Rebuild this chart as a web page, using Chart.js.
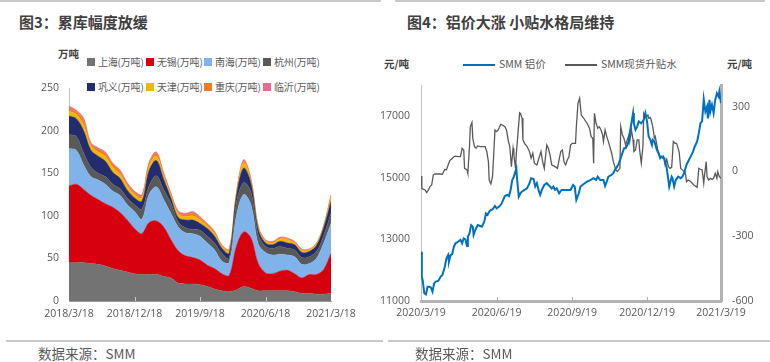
<!DOCTYPE html>
<html>
<head>
<meta charset="utf-8">
<script src="https://cdn.jsdelivr.net/npm/chart.js@4.4.1/dist/chart.umd.min.js"></script>
<style>
body{margin:0;width:770px;height:362px;background:#fff;position:relative;overflow:hidden;font-family:"Noto Sans CJK SC","Open Sans",sans-serif;}
.abs{position:absolute;white-space:nowrap}
.rule{position:absolute;background:#c9c9c9}
.title{font-size:15px;font-weight:bold;color:#404040;line-height:18px}
.unit{font-size:10.5px;font-weight:bold;color:#404040;line-height:14px}
.lg{font-size:10.5px;color:#595959;line-height:14px}
#legend3 .lg{font-size:10px;letter-spacing:-0.2px}
.lg i{display:inline-block;width:8px;height:8px;margin-right:3px;vertical-align:0}
.seg{position:absolute;height:2px}
.src{font-size:13.5px;color:#595959;line-height:16px}
canvas{position:absolute}
</style>
</head>
<body>
<div class="rule" style="left:0;top:0;width:381px;height:2px"></div>
<div class="rule" style="left:395px;top:0;width:370px;height:2px"></div>
<div class="abs title" style="left:19px;top:13px">图3：累库幅度放缓</div>
<div class="abs title" style="left:407px;top:13px">图4：铝价大涨 小贴水格局维持</div>

<div class="abs unit" style="left:58px;top:47px">万吨</div>
<div id="legend3"></div>

<div class="abs unit" style="left:384px;top:57px">元/吨</div>
<div class="abs unit" style="left:727px;top:57px">元/吨</div>
<div class="seg" style="left:463px;top:64px;width:32px;background:#0070c0"></div>
<div class="abs lg" style="left:499px;top:57px">SMM 铝价</div>
<div class="seg" style="left:565px;top:64px;width:32px;height:1.5px;background:#595959"></div>
<div class="abs lg" style="left:601px;top:57px">SMM现货升贴水</div>

<canvas id="stock" width="385" height="245" style="left:0;top:80px"></canvas>
<canvas id="price" width="395" height="245" style="left:375px;top:80px"></canvas>

<div class="rule" style="left:6px;top:340px;width:377px;height:1.5px"></div>
<div class="rule" style="left:388px;top:340px;width:382px;height:1.5px"></div>
<div class="abs src" style="left:38px;top:345px">数据来源：SMM</div>
<div class="abs src" style="left:415px;top:345px">数据来源：SMM</div>

<script>
// 图3 库存（万吨），2018/3/18 - 2021/3/18 每月
var stockDates = [];
for (var k = 0; k <= 36; k++) {
	var mm = 3 + k;
	stockDates.push((2018 + Math.floor((mm - 1) / 12)) + '/' + (((mm - 1) % 12) + 1) + '/18');
}
var stockTickLabels = ['2018/3/18', '2018/12/18', '2019/9/18', '2020/6/18', '2021/3/18'];

var shanghai  = [45,45,45,44,43,41,38,36,34,32,31,31,31,29,27,21,20,20,19,17,14,12,11,13,17,15,12,12,12,12,12,11,9,9,8,8,9];
var wuxi      = [90,92,86,80,76,73,72,68,61,53,48,61,63,58,45,38,33,31,29,25,24,20,19,51,64,59,32,21,20,23,24,21,18,22,23,29,47];
var nanhai    = [44,40,29,22,23,23,19,20,18,20,17,33,40,32,31,28,27,28,28,26,22,15,15,36,44,39,23,24,22,20,18,20,16,13,19,31,35];
var hangzhou  = [16,16,14,11,8,9,8,8,8,8,12,10,13,12,12,6,6,5,7,8,8,9,5,15,14,15,11,7,8,9,8,8,8,8,8,9,12];
var gongyi    = [22,21,26,20,20,18,14,12,9,8,9,18,18,12,6,5,9,11,8,9,8,6,6,8,17,10,6,4,4,6,6,6,6,6,7,9,14];
var tianjin   = [6,5,7,5,5,6,6,5,5,4,4,5,5,4,3,4,4,5,4,3,3,2,3,2,6,3,2,2,2,3,4,2,2,2,2,2,5];
var chongqing = [3,3,5,3,3,3,4,3,3,2,2,3,3,2,2,2,2,3,2,2,2,1,1,1,2,2,1,1,1,1,1,1,1,0.5,0.5,0.5,1.5];
var linyi     = [3,2,3,1,2,2,1,2,1,2,2,2,2,2,1,2,2,2,2,1,1,1,1,1,2,1,1,1,1,1,1,1,1,0.5,0.5,0.5,1.5];

var cityNames  = ['上海(万吨)','无锡(万吨)','南海(万吨)','杭州(万吨)','巩义(万吨)','天津(万吨)','重庆(万吨)','临沂(万吨)'];
var cityColors = ['#737373','#d7000f','#7fb3ea','#595959','#232c6e','#f2b705','#f47b20','#ea6b8b'];
var citySeries = [shanghai, wuxi, nanhai, hangzhou, gongyi, tianjin, chongqing, linyi];

// 图4 铝价（元/吨）与现货升贴水（元/吨），横轴为自 2020/3/19 起的天数
var alDays = [0,1,2,4,6,8,10,12,14,16,18,21,24,26,29,31,33,34,36,38,40,42,45,48,50,52,54,56,57,59,61,63,64,66,69,72,74,77,79,81,83,85,87,90,92,95,98,100,102,105,107,109,111,113,116,117,119,121,123,126,129,132,134,137,139,141,143,145,147,150,153,155,157,159,161,163,165,168,171,174,178,182,185,187,188,189,192,194,198,202,206,210,213,215,218,222,224,226,228,232,234,236,240,243,245,247,249,252,254,256,258,259,261,263,265,268,271,273,275,277,279,281,282,284,287,289,291,293,296,299,301,302,305,306,308,310,313,316,318,320,321,323,325,328,331,333,336,338,340,342,344,346,348,349,351,352,354,356,358,360,362,363,365];
var alPrice = [12600,11790,11680,11250,11215,11460,11460,11440,11300,11570,11630,11650,11790,11840,12110,12380,12490,12275,12490,12520,12760,12870,12920,12980,12870,13030,13000,12780,13090,13190,13460,13410,13140,13300,13460,13430,13410,13570,13840,13790,13900,13950,13970,14080,14000,14060,14150,14280,14400,14440,14400,14600,14920,15030,15300,14920,14380,14490,14550,14600,14650,14820,14980,14950,14710,14820,14600,14440,14600,14760,14820,14760,14710,14650,14710,14600,14650,14490,14600,14600,14600,14600,14760,14710,14490,14280,14490,14710,14790,14870,14920,14980,14920,15030,14920,14920,14730,14870,15030,15090,15140,15250,15410,15630,15790,15950,15950,16110,16440,16760,17090,16760,16550,16650,16820,16760,16870,17090,16820,16330,16220,16060,16220,16170,15900,15790,15630,15680,15630,15300,14920,14710,15030,14980,14710,14920,15030,14980,15030,15140,15230,15410,15520,15680,15840,16000,16170,16440,16760,16820,17540,17140,17300,16920,17520,17140,17360,17090,17520,17730,17630,17790,17410];

var spDays = [0,1,3,5,7,9,11,13,15,17,20,24,26,29,31,33,35,37,40,42,45,48,50,52,53,56,57,59,60,62,63,65,67,69,72,74,78,80,82,83,85,87,88,90,92,94,97,99,102,104,106,108,110,112,113,115,116,118,120,121,123,124,126,129,132,134,136,138,141,144,146,148,150,153,155,157,159,163,166,168,170,172,174,176,178,180,182,184,186,188,189,191,193,195,198,202,205,207,209,210,211,213,215,217,219,221,222,224,226,228,232,234,237,239,242,243,245,247,249,251,253,254,256,258,259,261,263,265,266,268,270,271,272,274,276,277,279,280,282,284,285,287,288,290,292,294,295,297,299,301,303,305,307,309,311,314,316,318,320,322,323,325,328,332,336,338,340,342,344,345,347,348,350,352,354,356,358,360,361,363,365];
var spread = [-21,-78,-83,-86,-98,-86,-70,-63,-16,-12,-12,-12,-13,10,7,30,50,56,68,71,68,68,107,99,14,7,-9,115,207,226,153,115,107,118,115,115,115,92,45,-40,-58,-24,45,192,184,192,218,215,207,192,146,115,22,107,76,14,84,176,272,269,246,146,130,115,92,61,84,38,30,68,92,45,14,122,107,76,30,22,14,53,92,99,45,30,53,68,122,130,130,130,207,315,339,261,246,223,200,161,153,38,269,223,200,207,192,169,138,192,161,138,84,45,7,-1,14,207,169,153,122,146,169,138,192,146,92,99,146,146,99,38,115,269,261,253,261,246,250,238,207,153,161,122,99,76,65,61,68,30,56,22,14,19,138,130,130,92,14,7,-1,-16,-47,-40,-47,-63,-74,14,10,7,-55,-16,45,-24,-40,-32,-37,-32,-9,-32,-1,-24,-32];

var priceTickDays = [0, 92, 184, 275, 365];
var priceTickLabels = ['2020/3/19', '2020/6/19', '2020/9/19', '2020/12/19', '2021/3/19'];
var alTicks = [11000, 13000, 15000, 17000];
var spTicks = [-600, -300, 0, 300];

// 图例
var lg = document.getElementById('legend3');
var lgLeft = [87, 146, 204, 263];
cityNames.forEach(function(name, i) {
	var d = document.createElement('div');
	d.className = 'abs lg';
	d.style.left = lgLeft[i % 4] + 'px';
	d.style.top = (i < 4 ? 55 : 80) + 'px';
	d.innerHTML = '<i style="background:' + cityColors[i] + '"></i>' + name;
	lg.appendChild(d);
});

Chart.defaults.font.family = '"Open Sans", "Noto Sans CJK SC", sans-serif';
Chart.defaults.font.size = 10.5;
Chart.defaults.color = '#595959';

// 横轴上向内的小刻度
const innerTicks = {
	id: 'innerTicks',
	afterDatasetsDraw(chart, args, opts) {
		const s = chart.scales.x, ctx = chart.ctx;
		ctx.save();
		ctx.strokeStyle = opts.color;
		ctx.lineWidth = 1;
		s.ticks.forEach(function(t, i) {
			if (!opts.show(i)) return;
			const x = Math.round(s.getPixelForTick(i)) + 0.5;
			ctx.beginPath();
			ctx.moveTo(x, s.top);
			ctx.lineTo(x, s.top - 4);
			ctx.stroke();
		});
		ctx.restore();
	}
};

function fixedTicks(list) {
	return function(s) { s.ticks = list.map(function(v) { return { value: v }; }); };
}

// 纵轴固定宽度，且不为首末标签额外留边
function fitY(w) {
	return function(s) { s.width = w; s.paddingTop = 0; s.paddingBottom = 0; };
}

new Chart(document.getElementById('stock'), {
	type: 'line',
	data: {
		labels: stockDates,
		datasets: citySeries.map(function(arr, i) {
			return {
				label: cityNames[i],
				data: arr,
				backgroundColor: cityColors[i],
				borderColor: cityColors[i],
				borderWidth: 0.5,
				pointRadius: 0,
				tension: 0.35,
				fill: i === 0 ? 'origin' : '-1'
			};
		})
	},
	options: {
		responsive: false,
		animation: false,
		layout: { padding: { top: 8, right: 54, left: 0, bottom: 0 } },
		plugins: {
			legend: { display: false },
			tooltip: { enabled: false },
			innerTicks: { color: '#c8c8c8', show: function(i) { return i > 0 && i < 36 && i % 9 === 0; } }
		},
		scales: {
			x: {
				offset: false,
				grid: { display: true, drawOnChartArea: false, drawTicks: false },
				border: { color: '#9a9a9a', width: 1 },
				ticks: {
					autoSkip: false, maxRotation: 0, padding: 7,
					callback: function(v, i) { return stockTickLabels.indexOf(stockDates[i]) >= 0 ? stockDates[i] : ''; }
				},
				afterFit: function(s) { s.height = 24; }
			},
			y: {
				stacked: true, min: 0, max: 250,
				grid: { display: true, drawOnChartArea: false, drawTicks: false },
				border: { color: '#bfbfbf', width: 1 },
				ticks: { stepSize: 50, padding: 10 },
				afterFit: fitY(69)
			}
		}
	},
	plugins: [innerTicks]
});

new Chart(document.getElementById('price'), {
	type: 'line',
	data: {
		datasets: [{
			label: 'SMM 铝价',
			data: alDays.map(function(d, i) { return { x: d, y: alPrice[i] }; }),
			yAxisID: 'yAl',
			borderColor: '#0070c0',
			borderWidth: 2,
			pointRadius: 0,
			tension: 0
		}, {
			label: 'SMM现货升贴水',
			data: spDays.map(function(d, i) { return { x: d, y: spread[i] }; }),
			yAxisID: 'ySp',
			borderColor: '#595959',
			borderWidth: 1.3,
			pointRadius: 0,
			tension: 0
		}]
	},
	options: {
		responsive: false,
		animation: false,
		layout: { padding: { top: 5, right: 0, left: 0, bottom: 0 } },
		plugins: {
			legend: { display: false },
			tooltip: { enabled: false },
			innerTicks: { color: '#b3b3b3', show: function(i) { return i > 0 && i < 4; } }
		},
		scales: {
			x: {
				type: 'linear', min: 0, max: 365,
				grid: { display: true, drawOnChartArea: false, drawTicks: false },
				border: { color: '#b3b3b3', width: 3 },
				afterBuildTicks: fixedTicks(priceTickDays),
				ticks: {
					autoSkip: false, maxRotation: 0, padding: 6,
					callback: function(v) { return priceTickLabels[priceTickDays.indexOf(v)]; }
				},
				afterFit: function(s) { s.height = 24; }
			},
			yAl: {
				position: 'left', min: 11000, max: 18000,
				grid: { display: true, drawOnChartArea: false, drawTicks: false },
				border: { color: '#bfbfbf', width: 1 },
				afterBuildTicks: fixedTicks(alTicks),
				ticks: { padding: 11, callback: function(v) { return String(v); } },
				afterFit: fitY(46)
			},
			ySp: {
				position: 'right', min: -600, max: 400,
				grid: { display: true, drawOnChartArea: false, drawTicks: false },
				border: { color: '#b3b3b3', width: 3 },
				afterBuildTicks: fixedTicks(spTicks),
				ticks: { padding: 11, callback: function(v) { return String(v); } },
				afterFit: fitY(49)
			}
		}
	},
	plugins: [innerTicks]
});
</script>
</body>
</html>
